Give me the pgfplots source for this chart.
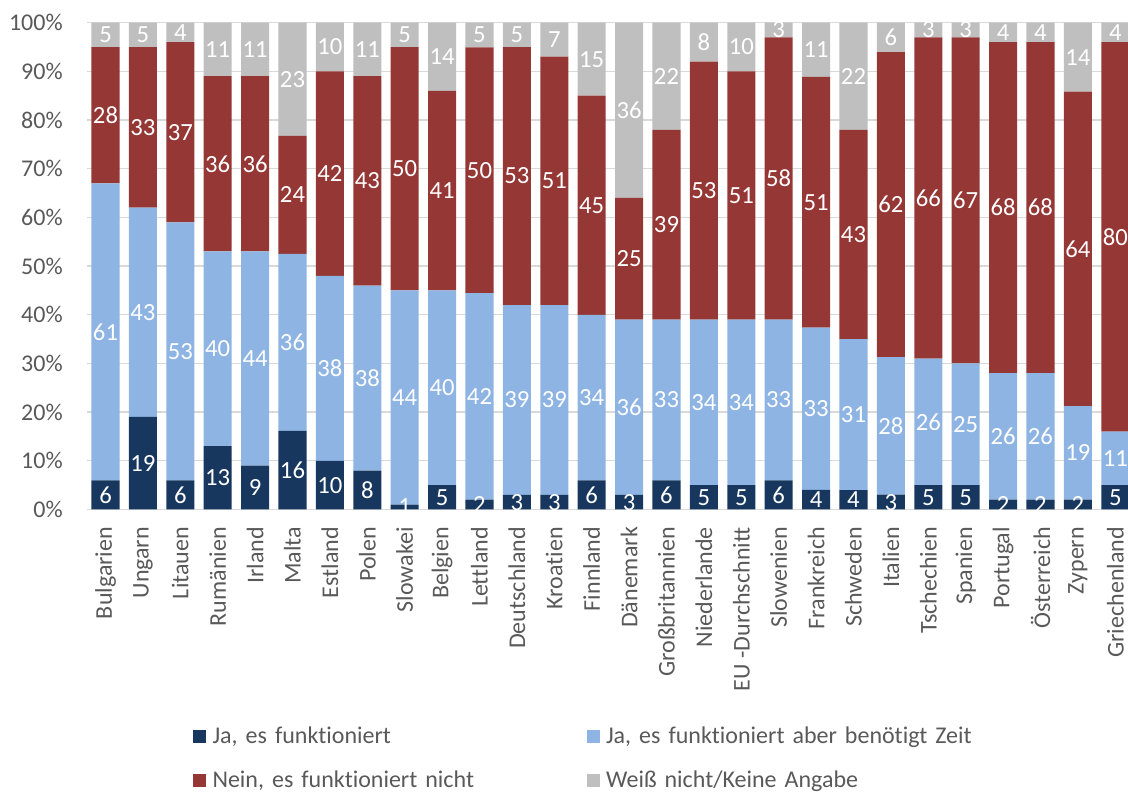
\documentclass[border=0pt]{standalone}
\usepackage{fontspec}
\setmainfont{Carlito}[Ligatures=NoCommon]
\usepackage{pgfplots}
\usepackage{pgfplotstable}
\pgfplotsset{compat=1.18}

\definecolor{jaC}{HTML}{17375E}
\definecolor{zeitC}{HTML}{8DB4E2}
\definecolor{neinC}{HTML}{953735}
\definecolor{wnC}{HTML}{BFBFBF}
\definecolor{txtC}{HTML}{595959}
\definecolor{gridC}{HTML}{D9D9D9}

% Antworten in Prozent je Land
\pgfplotstableread{
x  ja zeit nein wn
0   6  61  28   5
1  19  43  33   5
2   6  53  37   4
3  13  40  36  11
4   9  44  36  11
5  16  36  24  23
6  10  38  42  10
7   8  38  43  11
8   1  44  50   5
9   5  40  41  14
10  2  42  50   5
11  3  39  53   5
12  3  39  51   7
13  6  34  45  15
14  3  36  25  36
15  6  33  39  22
16  5  34  53   8
17  5  34  51  10
18  6  33  58   3
19  4  33  51  11
20  4  31  43  22
21  3  28  62   6
22  5  26  66   3
23  5  25  67   3
24  2  26  68   4
25  2  26  68   4
26  2  19  64  14
27  5  11  80   4
}\umfrage
\pgfplotstablecreatecol[expr={\thisrow{ja}+\thisrow{zeit}+\thisrow{nein}+\thisrow{wn}}]{tot}{\umfrage}

\newcommand{\bigfont}{\fontsize{18}{21.6}\selectfont}
\newcommand{\lblfont}{\fontsize{18.5}{22}\selectfont}

\pgfplotsset{
  frame/.style={
    scale only axis, width=780.9pt, height=365.1pt,
    at={(65.1pt,213.4pt)}, anchor=south west,
    xmin=-0.5, xmax=27.34, ymin=0, ymax=100,
  },
  lbl/.style={
    draw=none, mark=none, nodes near coords,
    point meta=explicit symbolic,
    every node near coord/.append style={text=white, font=\lblfont, anchor=center, inner sep=0pt},
  },
}

\begin{document}
\begin{tikzpicture}
\path[use as bounding box] (0,0) rectangle (846pt,595.5pt);
\begin{axis}[
  frame,
  ybar stacked, bar width=0.75,
  axis line style={draw=none},
  major tick length=0pt,
  ymajorgrids, grid style={gridC, line width=1pt},
  ytick={0,10,...,100},
  yticklabel={\pgfmathprintnumber{\tick}\%},
  /pgf/number format/assume math mode=true,
  yticklabel style={inner sep=0pt, font=\bigfont, text=txtC},
  yticklabel shift=17.9pt,
  xtick={0,...,27},
  xticklabels={Bulgarien, Ungarn, Litauen, Rumänien, Irland, Malta, Estland, Polen, Slowakei, Belgien, Lettland, Deutschland, Kroatien, Finnland, Dänemark, Großbritannien, Niederlande, EU -Durchschnitt, Slowenien, Frankreich, Schweden, Italien, Tschechien, Spanien, Portugal, Österreich, Zypern, Griechenland},
  xticklabel style={rotate=90, anchor=east, inner sep=0pt, font=\bigfont, text=txtC},
  xticklabel shift=13pt,
  legend columns=2,
  legend cell align=left,
  legend image code/.code={\fill[#1] (0pt,-4.875pt) rectangle (9.75pt,4.875pt);},
  legend style={
    at={(axis description cs:0.102,-0.444)}, anchor=north west,
    draw=none, fill=none, inner sep=0pt, outer sep=0pt,
    column sep=4.9pt, row sep=17.4pt,
    font=\bigfont, text=txtC,
    nodes={inner sep=0pt, text width=275.6pt, text height=13.6pt, text depth=2pt, align=left},
  },
]
\addplot[fill=jaC, draw=none] table[x=x, y expr={100*\thisrow{ja}/\thisrow{tot}}]{\umfrage};
\addplot[fill=zeitC, draw=none] table[x=x, y expr={100*\thisrow{zeit}/\thisrow{tot}}]{\umfrage};
\addplot[fill=neinC, draw=none] table[x=x, y expr={100*\thisrow{nein}/\thisrow{tot}}]{\umfrage};
\addplot[fill=wnC, draw=none] table[x=x, y expr={100*\thisrow{wn}/\thisrow{tot}}]{\umfrage};
\legend{Ja{,} es funktioniert, Ja{,} es funktioniert aber benötigt Zeit, Nein{,} es funktioniert nicht, Weiß nicht/Keine Angabe}
\end{axis}
% Werte mittig in den Segmenten
\begin{axis}[frame, hide axis, clip marker paths=true]
\addplot[lbl] table[x=x, y expr={100*(0.5*\thisrow{ja})/\thisrow{tot}}, meta=ja]{\umfrage};
\addplot[lbl] table[x=x, y expr={100*(\thisrow{ja}+0.5*\thisrow{zeit})/\thisrow{tot}}, meta=zeit]{\umfrage};
\addplot[lbl] table[x=x, y expr={100*(\thisrow{ja}+\thisrow{zeit}+0.5*\thisrow{nein})/\thisrow{tot}}, meta=nein]{\umfrage};
\addplot[lbl] table[x=x, y expr={100*(\thisrow{ja}+\thisrow{zeit}+\thisrow{nein}+0.5*\thisrow{wn})/\thisrow{tot}}, meta=wn]{\umfrage};
\end{axis}
\end{tikzpicture}
\end{document}
